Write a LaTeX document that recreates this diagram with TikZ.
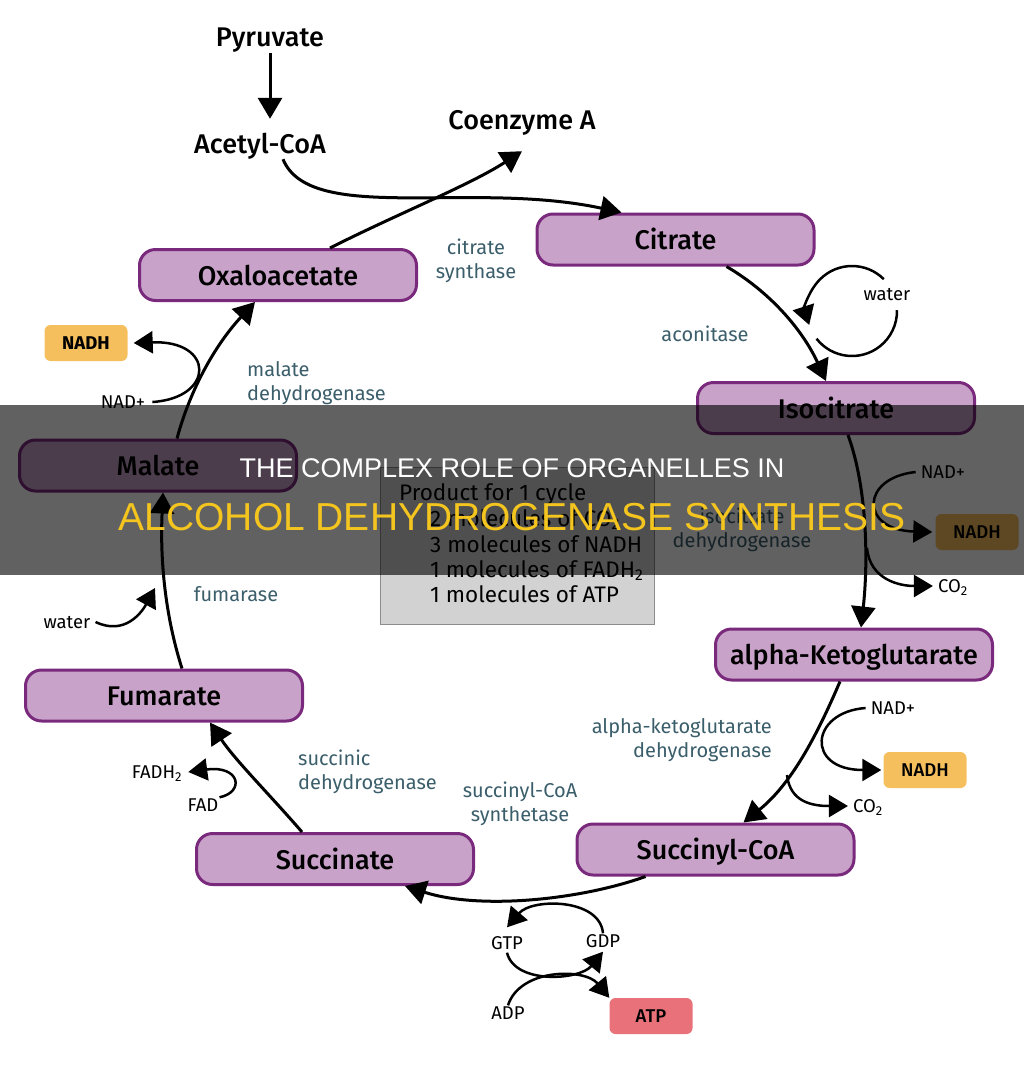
\documentclass[tikz,border=0pt]{standalone}
\usepackage{fontspec}
\setmainfont{Fira Sans}[UprightFont=* Medium, BoldFont=* Bold]
\newfontfamily\bookfont{Fira Sans}
\newfontfamily\titlefont{Liberation Sans}
\usetikzlibrary{arrows.meta}

\definecolor{boxfill}{HTML}{C8A2C8}
\definecolor{boxline}{HTML}{7A2A7C}
\definecolor{enzyme}{HTML}{3B5E6B}
\definecolor{nadhfill}{HTML}{F6BF5E}
\definecolor{atpfill}{HTML}{E8717A}
\definecolor{prodfill}{HTML}{D2D2D2}
\definecolor{prodline}{HTML}{8C8C8C}
\definecolor{titleyellow}{HTML}{F4C51E}

\tikzset{
  metab/.style={draw=boxline, fill=boxfill, line width=3pt, rounded corners=16pt,
    minimum width=277pt, minimum height=51pt, text height=20pt, text depth=0pt,
    font=\fontsize{27}{32}\selectfont},
  chem/.style={font=\fontsize{27}{32}\selectfont, text height=20pt, text depth=0pt, inner sep=2pt},
  enz/.style={text=enzyme, font=\bookfont\fontsize{20}{24.5}\selectfont, align=center, inner sep=0pt},
  small/.style={font=\bookfont\fontsize{18.5}{20}\selectfont, text height=13pt, text depth=0pt, inner sep=1pt},
  carrier/.style={rounded corners=6pt, minimum width=83pt, minimum height=36pt,
    text height=13pt, text depth=0pt, font=\fontsize{18.5}{20}\selectfont},
  prodtxt/.style={anchor=base west, inner sep=0pt, font=\bookfont\fontsize{22.5}{25}\selectfont},
  main/.style={line width=3pt, -{Triangle[length=21pt,width=24pt]}},
  side/.style={line width=2.5pt, -{Triangle[length=19pt,width=22pt]}},
}

\begin{document}
\begin{tikzpicture}[x=1pt,y=-1pt]
	\useasboundingbox (0,0) rectangle (1024,1080);
	\fill[white] (0,0) rectangle (1024,1080);

	% entry
	\node[chem] (pyr) at (270,36) {Pyruvate};
	\node[chem] (acoa) at (260,143) {Acetyl-CoA};
	\node[chem] (coa) at (522,119) {Coenzyme A};

	% cycle
	\node[metab] (oxa) at (278,275) {Oxaloacetate};
	\node[metab] (cit) at (675.5,239.5) {Citrate};
	\node[metab] (iso) at (836,408) {Isocitrate};
	\node[metab] (akg) at (854,654.5) {alpha-Ketoglutarate};
	\node[metab] (scoa) at (715.5,849.5) {Succinyl-CoA};
	\node[metab] (suc) at (335,859) {Succinate};
	\node[metab] (fum) at (164,695.5) {Fumarate};
	\node[metab] (mal) at (158,465.5) {Malate};

	% enzymes
	\node[enz] (cs) at (476,261) {citrate\\synthase};
	\node[enz] (aco) at (705,334) {aconitase};
	\node[enz, align=left, anchor=west] (mdh) at (247,383) {malate\\dehydrogenase};
	\node[enz] (idh) at (742,530) {isocitrate\\dehydrogenase};
	\node[enz, align=right, anchor=east] (akgdh) at (772,740) {alpha-ketoglutarate\\dehydrogenase};
	\node[enz] (scs) at (520,804) {succinyl-CoA\\synthetase};
	\node[enz, align=left, anchor=west] (sdh) at (298,772) {succinic\\dehydrogenase};
	\node[enz] (fh) at (236,594) {fumarase};

	% side products
	\node[carrier, fill=nadhfill, font=\bfseries\fontsize{18.5}{20}\selectfont] (nadh1) at (86,343) {NADH};
	\node[small] (nadp1) at (123,402) {NAD+};
	\node[small] (water1) at (67,622) {water};
	\node[small] (fadh) at (157,772) {FADH\textsubscript{2}};
	\node[small] (fad) at (203,805) {FAD};
	\node[small] (water2) at (887,294) {water};
	\node[small] (nadp2) at (943,472) {NAD+};
	\node[carrier, fill=nadhfill] (nadh2) at (977,532) {NADH};
	\node[small] (co2a) at (953,586) {CO\textsubscript{2}};
	\node[small] (nadp3) at (893,708) {NAD+};
	\node[carrier, fill=nadhfill] (nadh3) at (925,770) {NADH};
	\node[small] (co2b) at (868,806) {CO\textsubscript{2}};
	\node[small] (gtp) at (507,943) {GTP};
	\node[small] (gdp) at (603,941) {GDP};
	\node[small] (adp) at (508,1013) {ADP};
	\node[carrier, fill=atpfill] (atp) at (651,1016) {ATP};

	% product box
	\node[draw=prodline, fill=prodfill, line width=1.5pt, minimum width=274pt, minimum height=157pt] (prod) at (517.5,546) {};
	\node[prodtxt] (p1) at (399,500) {Product for 1 cycle};
	\node[prodtxt] (p2) at (430,526) {2 molecules of CO\textsubscript{2}};
	\node[prodtxt] (p3) at (430,552) {3 molecules of NADH};
	\node[prodtxt] (p4) at (430,577) {1 molecules of FADH\textsubscript{2}};
	\node[prodtxt] (p5) at (430,602) {1 molecules of ATP};

	\coordinate (wl) at (852,311);
	\coordinate (c1) at (867,548);
	\coordinate (c2) at (787,775);
	\coordinate (w1) at (155,588);

	% main arrows
	\draw[main] ([yshift=-5pt]pyr.south) -- ([xshift=10pt,yshift=12pt]acoa.north);
	\draw[main] ([xshift=23pt,yshift=-4pt]acoa.south) .. controls (310,225) and (470,180) .. ([xshift=-54pt]cit.north);
	\draw[main] ([xshift=52pt]oxa.north) .. controls (395,215) and (470,185) .. ([yshift=-20pt]coa.south);
	\draw[main] ([xshift=51pt]cit.south) .. controls (775,295) and (805,335) .. ([xshift=-10pt]iso.north);
	\draw[main] ([xshift=12pt]iso.south) .. controls (868,490) and (868,565) .. ([xshift=7pt]akg.north);
	\draw[main] ([xshift=-14pt]akg.south) .. controls (815,740) and (790,785) .. ([xshift=28pt]scoa.north);
	\draw[main] ([xshift=-70pt]scoa.south) .. controls (580,900) and (480,910) .. ([xshift=70pt]suc.south);
	\draw[main] ([xshift=-33pt]suc.north) .. controls (270,795) and (235,760) .. ([xshift=46pt]fum.south);
	\draw[main] ([xshift=18pt]fum.north) .. controls (165,615) and (160,560) .. ([xshift=5pt]mal.south);
	\draw[main] ([xshift=19pt]mal.north) .. controls (190,390) and (215,345) .. ([xshift=-23pt]oxa.south);

	% side arrows
	\draw[side] ([shift={(45:45pt)}]wl) arc[start angle=45, end angle=198, radius=45pt];
	\draw[line width=2.5pt] ([shift={(218:45pt)}]wl) arc[start angle=218, end angle=361, radius=45pt];
	\draw[side] ([xshift=6pt]nadp1.east) .. controls (215,398) and (215,340) .. ([xshift=6pt]nadh1.east);
	\draw[side] ([xshift=4pt]water1.east) .. controls (125,636) and (142,612) .. (w1);
	\draw[side] (fad.north east) .. controls (245,792) and (240,765) .. ([xshift=5pt]fadh.east);
	\draw[side] ([xshift=-4pt]nadp2.west) .. controls (860,478) and (860,530) .. ([xshift=-3pt]nadh2.west);
	\draw[side] (c1) .. controls (870,580) and (900,586) .. ([xshift=-4pt]co2a.west);
	\draw[side] ([xshift=-4pt]nadp3.west) .. controls (810,712) and (805,770) .. ([xshift=-2pt]nadh3.west);
	\draw[side] (c2) .. controls (790,802) and (812,806) .. ([xshift=-4pt]co2b.west);
	\draw[side] (gdp.north) .. controls (600,898) and (532,898) .. ([yshift=8pt]gtp.north);
	\draw[side] ([yshift=-2pt]gtp.south) .. controls (515,985) and (580,980) .. ([yshift=-3pt]gdp.south);
	\draw[side] (adp.north) .. controls (520,968) and (585,968) .. (atp.north west);

	% banner
	\fill[black, opacity=0.62] (0,405) rectangle (1024,575);
	\node[anchor=base, text=white, font=\titlefont\fontsize{27}{30}\selectfont] (t1) at (512,477) {THE COMPLEX ROLE OF ORGANELLES IN};
	\node[anchor=base, text=titleyellow, font=\titlefont\fontsize{39}{44}\selectfont] (t2) at (512,530) {ALCOHOL DEHYDROGENASE SYNTHESIS};
\end{tikzpicture}
\end{document}
